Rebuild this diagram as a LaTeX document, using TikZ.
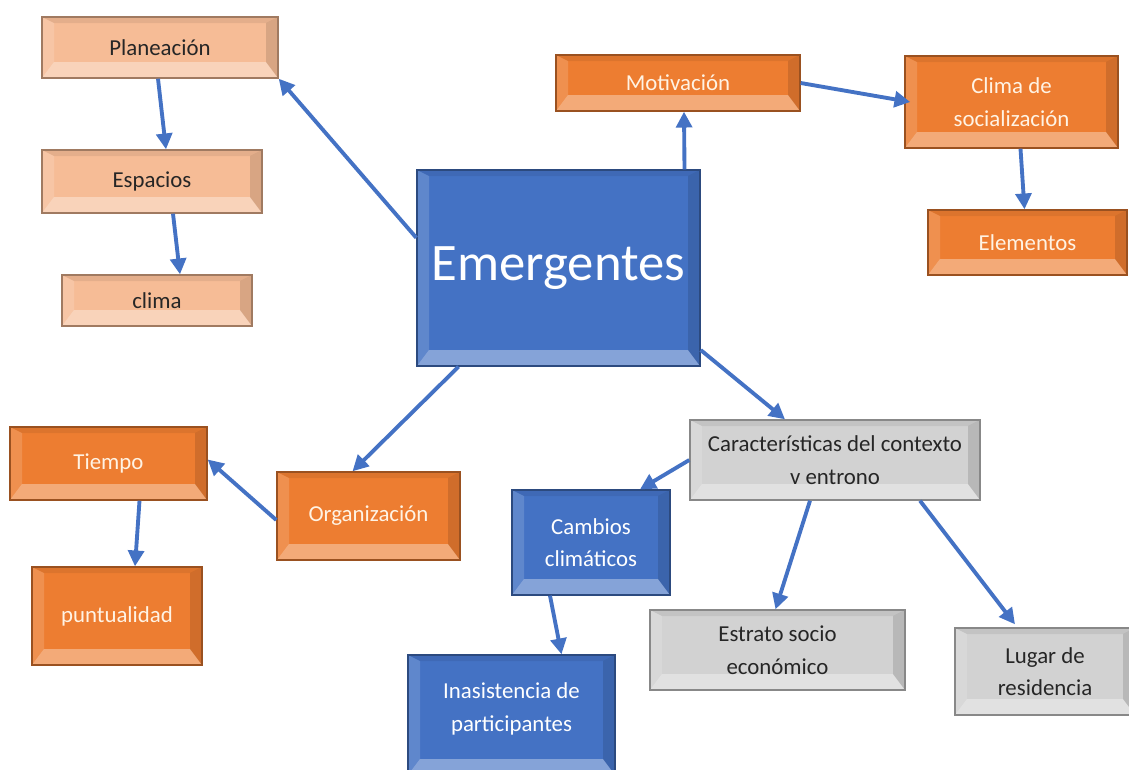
\documentclass[tikz,border=0pt]{standalone}
\usepackage{fontspec}
\setmainfont{Carlito}
\usetikzlibrary{arrows.meta,calc}
\definecolor{linkblue}{HTML}{4472C4}
\definecolor{orangefill}{HTML}{ED7D31}
\definecolor{salmonfill}{HTML}{F6BC96}
\definecolor{bluefill}{HTML}{4472C4}
\definecolor{grayfill}{HTML}{D2D2D2}
\definecolor{creamtext}{HTML}{FFF3E4}
\tikzset{
  bevel/.style={path picture={
      \coordinate (bvnw) at (path picture bounding box.north west);
      \coordinate (bvne) at (path picture bounding box.north east);
      \coordinate (bvsw) at (path picture bounding box.south west);
      \coordinate (bvse) at (path picture bounding box.south east);
      \fill[white,opacity=.35] (bvsw) -- ($(bvsw)+(12,-16)$) -- ($(bvse)+(-12,-16)$) -- (bvse) -- cycle;
      \fill[black,opacity=.07] (bvnw) -- ($(bvnw)+(12,6)$) -- ($(bvne)+(-12,6)$) -- (bvne) -- cycle;
      \fill[white,opacity=.15] (bvnw) -- ($(bvnw)+(12,6)$) -- ($(bvsw)+(12,-16)$) -- (bvsw) -- cycle;
      \fill[black,opacity=.12] (bvne) -- ($(bvne)+(-12,6)$) -- ($(bvse)+(-12,-16)$) -- (bvse) -- cycle;
    }},
  sz/.style 2 args={minimum width=#1*0.02cm, minimum height=#2*0.02cm},
  box/.style={rectangle, draw=#1!65!black, fill=#1, line width=0.8pt, inner sep=0pt,
    align=center, font=\fontsize{13}{18.5}\selectfont, bevel},
  orangebox/.style={box=orangefill, text=creamtext},
  salmonbox/.style={box=salmonfill, text=black!85},
  bluebox/.style={box=bluefill, text=white},
  graybox/.style={box=grayfill, text=black!85},
}
\begin{document}
\begin{tikzpicture}[x=0.02cm,y=-0.02cm,
    link/.style={->, draw=linkblue, line width=2.2pt},
    >={Triangle[length=9pt,width=9pt]}]
  \useasboundingbox (0,0) rectangle (1129,769);
  \clip (0,0) rectangle (1129,769);

  % centre
  \node[bluebox, sz={283}{196}, font=\fontsize{30}{36}\selectfont] (emer) at (558.5,268) {Emergentes};

  % top left
  \node[salmonbox, sz={236}{61}] (plan) at (160,47.5) {Planeación};
  \node[salmonbox, sz={220}{63}] (espa) at (152,181.5) {Espacios};
  \node[salmonbox, sz={190}{51}] (clim) at (157,300.5) {clima};

  % top right
  \node[orangebox, sz={244}{56}] (moti) at (678,83) {Motivación};
  \node[orangebox, sz={213}{92}] (soci) at (1011.5,102) {Clima de\\socialización};
  \node[orangebox, sz={199}{65}] (elem) at (1027.5,242.5) {Elementos};

  % bottom left
  \node[orangebox, sz={197}{73}] (tiem) at (108.5,463.5) {Tiempo};
  \node[orangebox, sz={183}{88}] (orga) at (368.5,516) {Organización};
  \node[orangebox, sz={170}{98}] (punt) at (117,616) {puntualidad};

  % bottom right
  \node[graybox, sz={290}{80}] (cara) at (835,460) {Características del contexto\\v entrono};
  \node[bluebox, sz={158}{105}] (camb) at (591,542.5) {Cambios\\climáticos};
  \node[bluebox, sz={207}{120}] (inas) at (511.5,715) {Inasistencia de\\participantes\\[-9.5pt]};
  \node[graybox, sz={255}{80}] (estr) at (777.5,650) {Estrato socio\\económico};
  \node[graybox, sz={180}{87}] (luga) at (1045,671.5) {Lugar de\\residencia};

  % links
  \path
    (emer.168) edge[link] (plan.south east)
    ($(plan.south)+(-2,0)$) edge[link] ($(espa.north)+(14,0)$)
    ($(espa.south)+(21,0)$) edge[link] ($(clim.north)+(23,0)$)
    ($(emer.north)+(126,0)$) edge[link] ($(moti.south)+(6,0)$)
    (moti.east) edge[link] ($(soci.west)+(6,0)$)
    ($(soci.south)+(9,0)$) edge[link] ($(elem.north)+(-3,0)$)
    ($(emer.south)+(-100,0)$) edge[link] ($(orga.north)+(-16,0)$)
    ($(orga.west)+(0,4)$) edge[link] ($(tiem.east)+(0,-4)$)
    ($(tiem.south)+(31,0)$) edge[link] ($(punt.north)+(18,0)$)
    ($(emer.east)+(0,82)$) edge[link] ($(cara.north)+(-50,0)$)
    (cara.west) edge[link] ($(camb.north)+(49,0)$)
    ($(cara.south)+(-25,0)$) edge[link] ($(estr.north)+(-2,0)$)
    ($(cara.south)+(85,0)$) edge[link] ($(luga.north)+(-30,-3)$)
    ($(camb.south)+(-41,0)$) edge[link] ($(inas.north)+(50,0)$);
\end{tikzpicture}
\end{document}
